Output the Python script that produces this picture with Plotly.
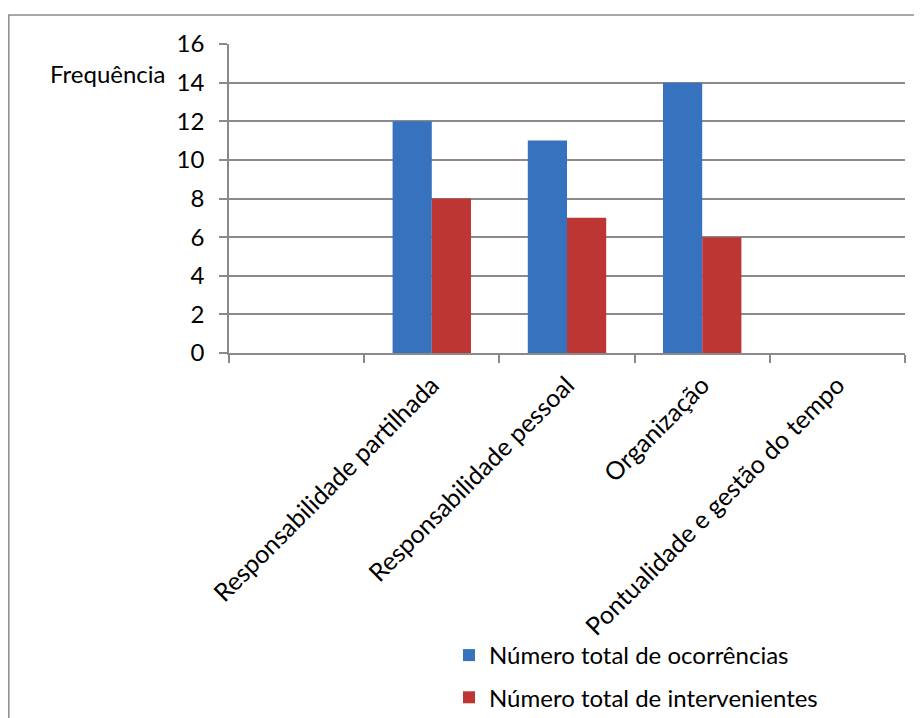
import plotly.graph_objects as go

categories = [" ", "Responsabilidade partilhada", "Responsabilidade pessoal", "Organização", "Pontualidade e gestão do tempo"]
ocorrencias = [None, 12, 11, 14, 0]
intervenientes = [None, 8, 7, 6, 0]
series_names = ["Número total de ocorrências", "Número total de intervenientes"]
y_ticks = [0, 2, 4, 6, 8, 10, 12, 14, 16]

FONT = "Lato"
FS = 24
GRID = "#8a8a8a"

fig = go.Figure()
fig.add_trace(go.Bar(x=categories, y=ocorrencias, name=series_names[0], legendgroup="g1",
                     marker=dict(color="#3672bd", line=dict(width=0))))
fig.add_trace(go.Bar(x=categories, y=intervenientes, name=series_names[1], legendgroup="g2",
                     marker=dict(color="#bd3634", line=dict(width=0))))

OFF = 8  # page body margin
W, H = 922 - OFF, 718 - OFF
L, R, T, B = 229 - OFF, 905 - OFF, 44 - OFF, 353 - OFF
pw, ph = R - L, B - T

def px_x(v):
    return (v - OFF - L) / pw

def px_y(v):
    return (B - (v - OFF)) / ph

fig.update_layout(
    width=W, height=H,
    margin=dict(l=L, r=W - R, t=T, b=H - B, pad=0, autoexpand=False),
    paper_bgcolor="white", plot_bgcolor="white",
    barmode="group", bargap=0.42, bargroupgap=0,
    font=dict(family=FONT, size=FS, color="#000000"),
    showlegend=True,
    legend=dict(x=px_x(449), y=px_y(633), xanchor="left", yanchor="top",
                orientation="v", font=dict(size=FS, family=FONT),
                tracegroupgap=8, itemwidth=30, bgcolor="rgba(0,0,0,0)"),
    xaxis=dict(type="category", categoryorder="array", categoryarray=categories,
               showgrid=False, showline=True, linecolor=GRID, linewidth=1.5,
               ticks="outside", ticklen=8, tickcolor=GRID, tickwidth=1.5,
               tickangle=-45, tickson="boundaries", ticklabelstandoff=6,
               automargin=False, tickfont=dict(size=25, family=FONT)),
    yaxis=dict(range=[0, 16], tickvals=y_ticks, showgrid=True, gridcolor=GRID,
               gridwidth=1.5, showline=True, linecolor=GRID, linewidth=1.5,
               ticks="outside", ticklen=8, tickcolor=GRID, tickwidth=1.5,
               zeroline=False, ticklabelstandoff=10, automargin=False,
               tickfont=dict(size=FS, family=FONT)),
    annotations=[dict(text="Frequência", xref="paper", yref="paper",
                      x=px_x(168), y=px_y(74), xanchor="right", yanchor="middle",
                      showarrow=False, font=dict(size=FS, family=FONT))],
    shapes=[dict(type="rect", xref="paper", yref="paper",
                 x0=px_x(8.8), x1=px_x(940), y0=px_y(740), y1=px_y(15),
                 line=dict(color="#8c8c8c", width=1.5), fillcolor="rgba(0,0,0,0)",
                 layer="below")],
)

fig.write_html("out.html")
